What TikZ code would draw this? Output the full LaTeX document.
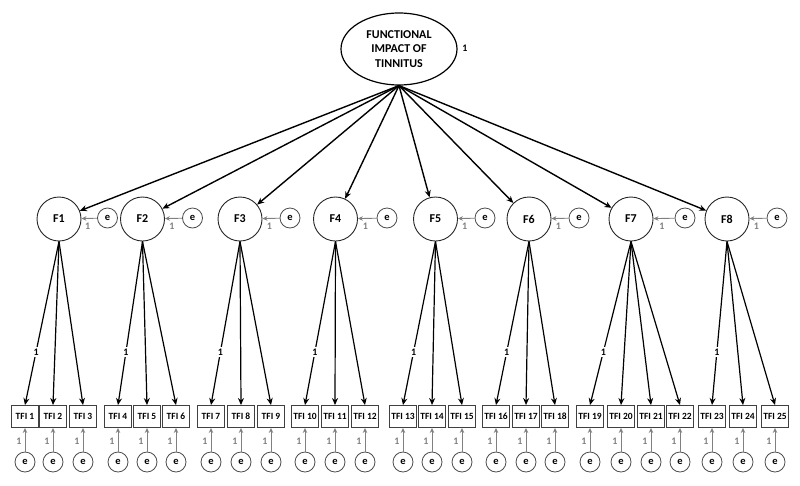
\documentclass[tikz,border=0pt]{standalone}
\usepackage{fontspec}
\setmainfont{Carlito}
\usetikzlibrary{arrows.meta,shapes.geometric}
\begin{document}
\begin{tikzpicture}[x=1pt,y=-1pt,
  every node/.style={font=\bfseries},
  topell/.style={ellipse,draw=black,line width=1.2pt,minimum width=116pt,minimum height=72pt,inner sep=0pt,align=center,font=\bfseries\fontsize{12}{14.5}\selectfont},
  fac/.style={circle,draw=black!85,line width=0.9pt,minimum size=44pt,inner sep=0pt,font=\bfseries\fontsize{12}{14}\selectfont},
  err/.style={circle,draw=black!70,line width=0.8pt,minimum size=20pt,inner sep=0pt,font=\bfseries\fontsize{10.5}{12}\selectfont},
  ind/.style={rectangle,draw=black!75,line width=0.9pt,minimum width=27pt,minimum height=22pt,inner sep=0pt,font=\bfseries\fontsize{9.5}{11}\selectfont},
  one/.style={font=\bfseries\fontsize{10}{11}\selectfont,inner sep=1pt},
  toparr/.style={-{Stealth[length=7pt,width=6pt]},line width=1.4pt,black},
  loadarr/.style={-{Stealth[length=7pt,width=6pt]},line width=1.2pt,black},
  errarr/.style={-{Stealth[length=5pt,width=4.5pt]},line width=0.9pt,black!50}
]
\useasboundingbox (0,0) rectangle (800,485);
\node[topell] (top) at (399,49) {FUNCTIONAL\\IMPACT OF\\TINNITUS};
\node[one] (topone) at (465,48) {1};
\coordinate (tb) at (top.south);

% factors
\foreach \i/\x/\ex in {1/59/107.5,2/142.5/192.5,3/240/290,4/335.5/387,5/435.5/485,6/529/579,7/631/685,8/727/777}{
  \node[fac] (F\i) at (\x,219) {F\i};
  \node[err] (eF\i) at (\ex,218) {e};
  \draw[toparr] (tb) -- (F\i);
  \draw[errarr] (eF\i) -- (F\i) node[one,pos=0.6,below=3pt] (oF\i) {1};
}

% indicators
\foreach \j/\x in {1/25,2/53,3/83,4/118,5/147,6/176,7/211,8/241,9/271,10/305,11/335,12/365,13/403,14/432,15/462,16/496,17/526,18/555,19/590,20/621,21/651,22/680,23/712,24/743,25/775}{
  \node[ind] (T\j) at (\x,416.5) {TFI \j};
  \node[err] (eT\j) at (\x,462) {e};
  \draw[errarr] (eT\j) -- (T\j.south) node[one,pos=0.45,left=2pt] (oT\j) {1};
}

% loadings
\foreach \f/\first/\rest in {1/1/{2,3},2/4/{5,6},3/7/{8,9},4/10/{11,12},5/13/{14,15},6/16/{17,18},7/19/{20,21,22},8/23/{24,25}}{
  \draw[loadarr] (F\f.south) -- (T\first.north) node[one,pos=0.675,fill=white,inner sep=1.5pt] (L\f) {1};
  \foreach \r in \rest {
    \draw[loadarr] (F\f.south) -- (T\r.north);
  }
}
\end{tikzpicture}
\end{document}
